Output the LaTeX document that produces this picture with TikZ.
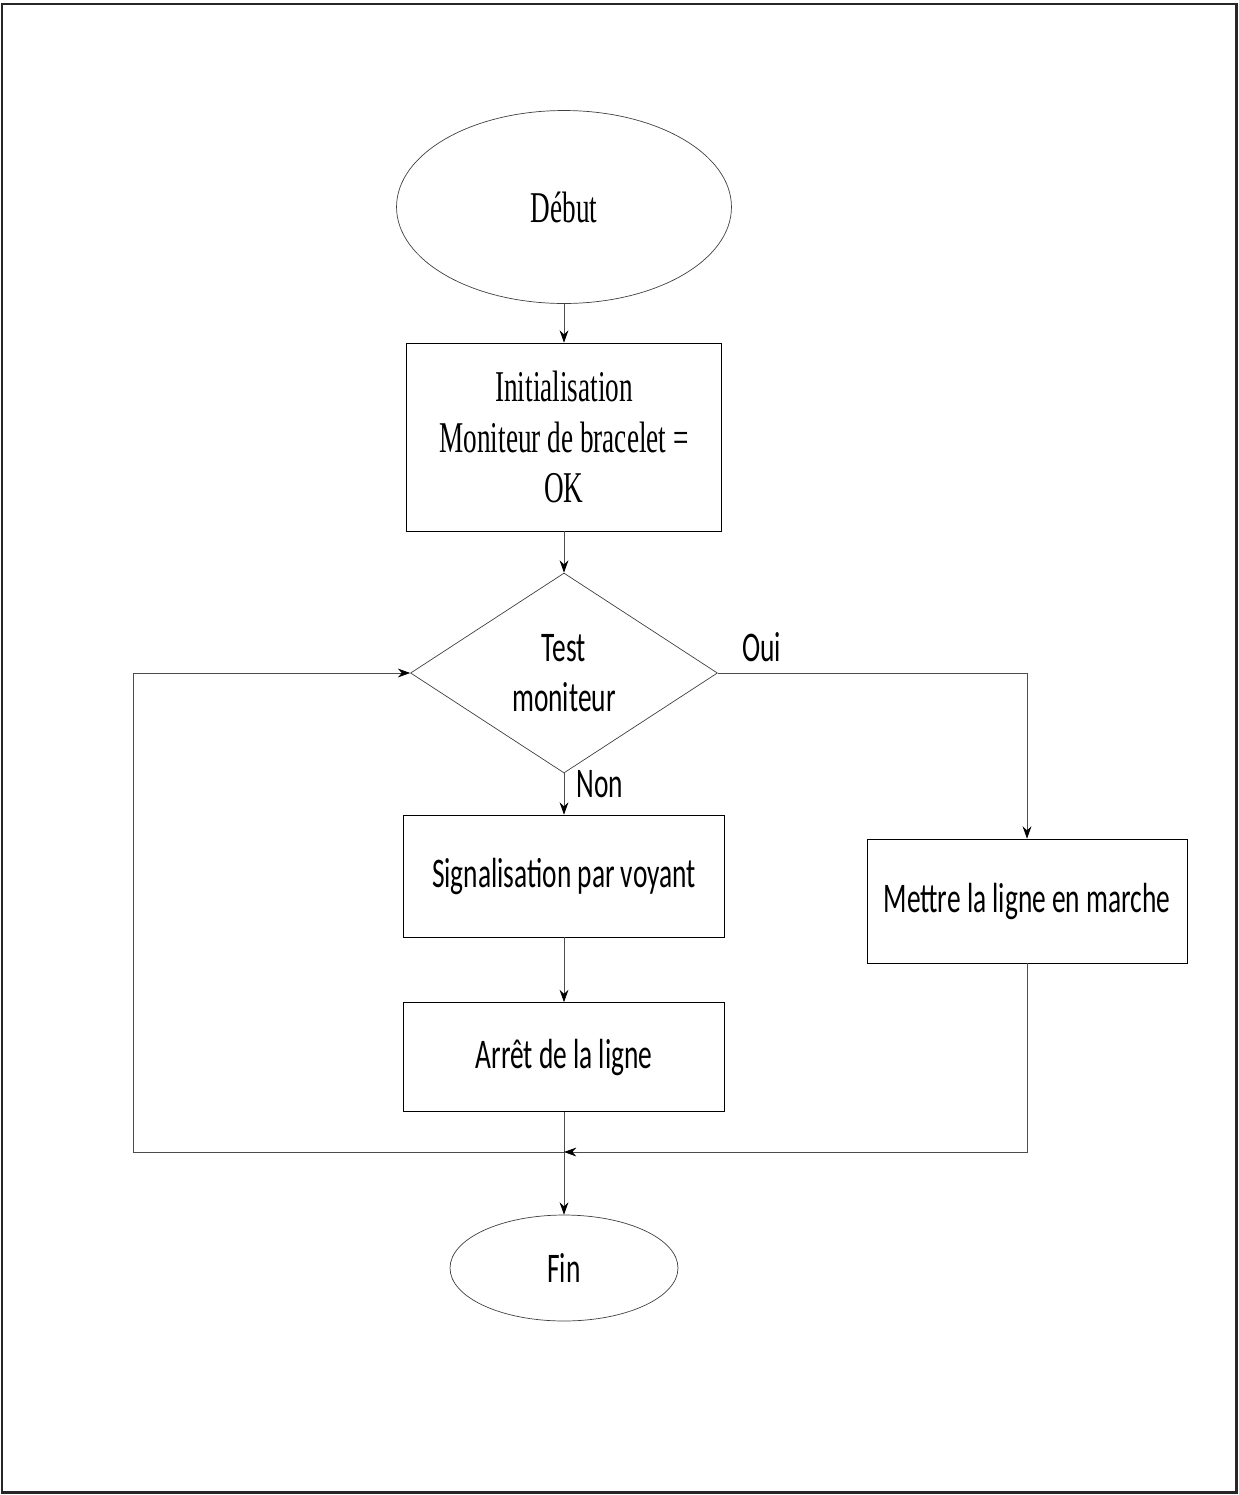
\documentclass[tikz,border=0pt]{standalone}
\usepackage{fontspec}
\newfontfamily\seriffont[FakeStretch=0.62]{Liberation Serif}
\newfontfamily\sansfont[FakeStretch=0.65]{Carlito}
\usetikzlibrary{shapes.geometric, arrows.meta}
\tikzstyle{startstop} = [ellipse, draw=black!75, thin, inner sep=0]
\tikzstyle{process} = [rectangle, draw=black, thin, align=center, inner sep=0]
\tikzstyle{decision} = [diamond, draw=black!75, thin, align=center, inner sep=0]
\tikzstyle{serif} = [font=\seriffont\fontsize{25}{28.5}\selectfont]
\tikzstyle{sans} = [font=\sansfont\fontsize{24}{28.5}\selectfont]
\tikzstyle{arrow} = [black!70, thin, ->, >={Stealth[length=7pt,width=5pt,black]}]

\begin{document}
\begin{tikzpicture}[x=0.02cm, y=-0.02cm]
\useasboundingbox (0,0) rectangle (1238,1495);
\draw[line width=1.7pt, black!85] (2,4) rectangle (1236,1492);

\node[startstop, serif, minimum width=6.7cm, minimum height=3.86cm] (debut) at (564,207) {Début};
\node[process, serif, minimum width=6.3cm, minimum height=3.76cm] (init) at (564,437) {Initialisation\\Moniteur de bracelet =\\OK};
\node[decision, sans, minimum width=6.14cm, minimum height=4cm] (test) at (564,673) {Test\\moniteur};
\node[process, sans, minimum width=6.42cm, minimum height=2.44cm] (signal) at (564,876) {Signalisation par voyant};
\node[process, sans, minimum width=6.42cm, minimum height=2.18cm] (arret) at (564,1057) {Arrêt de la ligne};
\node[process, sans, minimum width=6.4cm, minimum height=2.48cm] (marche) at (1027,901) {Mettre la ligne en marche};
\node[startstop, sans, minimum width=4.56cm, minimum height=2.12cm] (fin) at (564,1268) {Fin};

\node[sans, anchor=west, inner sep=0] (oui) at (742,647) {Oui};
\node[sans, anchor=west, inner sep=0] (non) at (576,784) {Non};

\coordinate (join) at (564,1152);
\coordinate (loop) at (133,1152);

\draw[arrow] (debut) -- (init);
\draw[arrow] (init) -- (test);
\draw[arrow] (test.south) -- (signal);
\draw[arrow] (signal) -- (arret);
\draw[arrow] (arret) -- (fin);
\draw[arrow] (test.east) -| (marche.north);
\draw[arrow] (marche.south) |- (join);
\draw[arrow] (join) -- (loop) |- (test.west);
\end{tikzpicture}
\end{document}
